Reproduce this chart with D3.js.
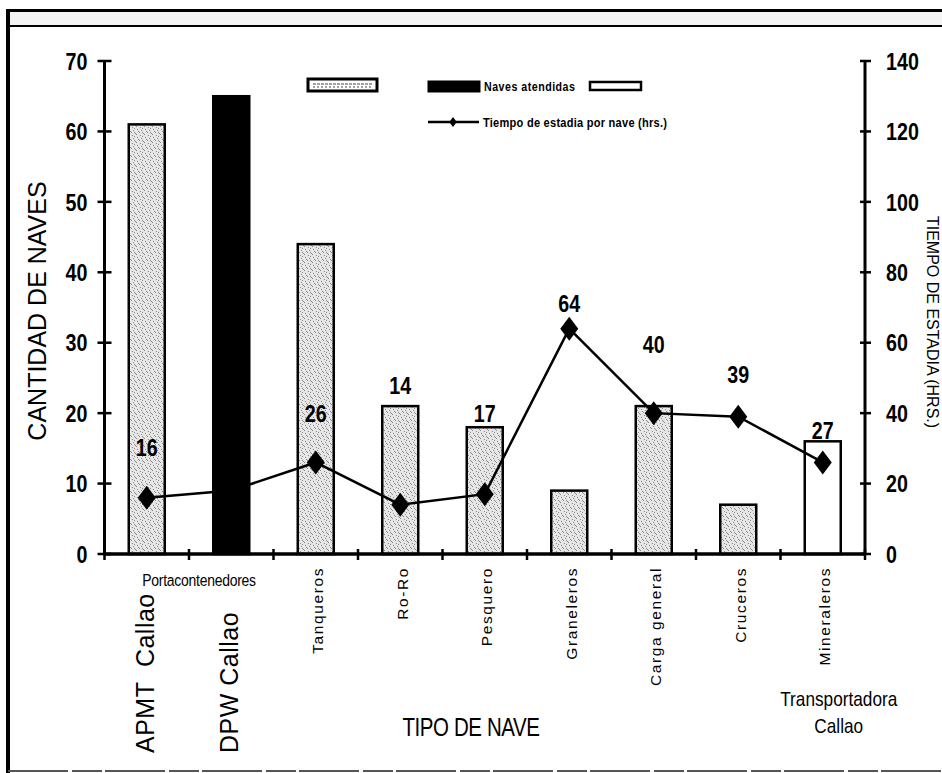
<!DOCTYPE html>
<html>
<head>
<meta charset="utf-8">
<script src="https://cdn.jsdelivr.net/npm/d3@7"></script>
<style>
  html, body { margin: 0; padding: 0; background: #fff; }
  svg { display: block; }
  text { font-family: "Liberation Sans", Arial, sans-serif; fill: #000; }
</style>
</head>
<body>
<svg id="chart" width="942" height="773"></svg>
<script>
// ---------------- DATA ----------------
const categories = ["APMT Callao", "DPW Callao", "Tanqueros", "Ro-Ro", "Pesquero",
                    "Graneleros", "Carga general", "Cruceros", "Mineraleros"];
const seriesOf = ["puerto", "dpw", "puerto", "puerto", "puerto",
                  "puerto", "puerto", "puerto", "transportadora"];
const navesAtendidas = [61, 65, 44, 21, 18, 9, 21, 7, 16];
const tiempoEstadia = [16, 18, 26, 14, 17, 64, 40, 39, 26];
const tiempoLabels = ["16", "", "26", "14", "17", "64", "40", "39", "27"];
const leftTicks = [0, 10, 20, 30, 40, 50, 60, 70];
const rightTicks = [0, 20, 40, 60, 80, 100, 120, 140];
const legendBarLabels = ["", "Naves atendidas", ""];
const legendLineLabel = "Tiempo de estadia por nave (hrs.)";
const groupLabel = "Portacontenedores";
const extraLabel = ["Transportadora", "Callao"];
const xTitle = "TIPO DE NAVE";
const yTitle = "CANTIDAD DE NAVES";
const y2Title = "TIEMPO DE ESTADIA (HRS.)";

// ---------------- LAYOUT ----------------
const svg = d3.select("#chart");
const X0 = 104.5, X1 = 865, Y0 = 554, Y1 = 61;
const NARROW = 0.82;

const x = d3.scaleBand().domain(categories).range([X0, X1]).padding(0);
const yL = d3.scaleLinear().domain([0, 70]).range([Y0, Y1]);
const yR = d3.scaleLinear().domain([0, 140]).range([Y0, Y1]);
const cx = c => x(c) + x.bandwidth() / 2;
const barW = 36;

// condensed text helper (Arial Narrow look)
function narrow(parent, px, py, str, o) {
  o = o || {};
  return parent.append("text")
    .attr("transform", `translate(${px},${py}) scale(${NARROW},1)`)
    .attr("dy", "0.36em")
    .attr("text-anchor", o.anchor || "start")
    .attr("font-size", o.size || 14)
    .attr("font-weight", o.weight || "normal")
    .attr("letter-spacing", o.ls || 0)
    .text(str);
}

// stipple pattern
const defs = svg.append("defs");
const pat = defs.append("pattern").attr("id", "stip").attr("patternUnits", "userSpaceOnUse")
  .attr("width", 8).attr("height", 8);
pat.append("rect").attr("width", 8).attr("height", 8).attr("fill", "#e6e6e6");
[[1,1],[5,2],[3,4],[7,5],[0,6],[4,7],[6,0],[2,3],[6,4]].forEach(p =>
  pat.append("rect").attr("x", p[0]).attr("y", p[1]).attr("width", 1).attr("height", 1).attr("fill", "#8c8c8c"));

const fills = { puerto: "url(#stip)", dpw: "#000", transportadora: "#fff" };

// ---------------- FRAME ----------------
svg.append("rect").attr("x", 6).attr("y", 12).attr("width", 936).attr("height", 13).attr("fill", "#f4f4f4");
svg.append("line").attr("x1", 6).attr("x2", 942).attr("y1", 10.5).attr("y2", 10.5).attr("stroke", "#000").attr("stroke-width", 3);
svg.append("line").attr("x1", 6).attr("x2", 942).attr("y1", 26).attr("y2", 26).attr("stroke", "#000").attr("stroke-width", 2);
svg.append("line").attr("x1", 8).attr("x2", 8).attr("y1", 9).attr("y2", 773).attr("stroke", "#000").attr("stroke-width", 4);
svg.append("line").attr("x1", 8).attr("x2", 942).attr("y1", 771).attr("y2", 771)
  .attr("stroke", "#555").attr("stroke-width", 2).attr("stroke-dasharray", "60,4,30,3");

// ---------------- BARS ----------------
svg.append("g").selectAll("rect").data(categories).join("rect")
  .attr("x", c => cx(c) - barW / 2)
  .attr("y", (c, i) => yL(navesAtendidas[i]))
  .attr("width", barW)
  .attr("height", (c, i) => Y0 - yL(navesAtendidas[i]))
  .attr("fill", (c, i) => fills[seriesOf[i]])
  .attr("stroke", "#000").attr("stroke-width", 2.5);

// ---------------- LINE ----------------
const line = d3.line().x((d, i) => cx(categories[i])).y(d => yR(d));
svg.append("path").datum(tiempoEstadia).attr("d", line)
  .attr("fill", "none").attr("stroke", "#000").attr("stroke-width", 2.5);
const diamond = "M0,-12L9,0L0,12L-9,0Z";
svg.append("g").selectAll("path").data(tiempoEstadia).join("path")
  .attr("transform", (d, i) => `translate(${cx(categories[i])},${yR(d)})`)
  .attr("d", diamond).attr("fill", "#000");

// data labels (vertical lift above each marker, px)
const lift = [50, 0, 49, 119, 81, 25, 69, 42, 32];
const gLab = svg.append("g");
tiempoLabels.forEach((t, i) => {
  if (!t) return;
  narrow(gLab, cx(categories[i]), yR(tiempoEstadia[i]) - lift[i], t,
         { anchor: "middle", size: 24, weight: "bold" });
});

// ---------------- AXES ----------------
const ax = svg.append("g").attr("stroke", "#000");
ax.append("line").attr("x1", X0).attr("x2", X0).attr("y1", Y1).attr("y2", Y0 + 1).attr("stroke-width", 3);
ax.append("line").attr("x1", X1).attr("x2", X1).attr("y1", Y1).attr("y2", Y0 + 1).attr("stroke-width", 3);
ax.append("line").attr("x1", X0 - 1).attr("x2", X1 + 1).attr("y1", Y0).attr("y2", Y0).attr("stroke-width", 3.5);

ax.selectAll(".lt").data(leftTicks).join("line").attr("class", "lt")
  .attr("x1", X0 - 7).attr("x2", X0 + 7).attr("y1", d => yL(d)).attr("y2", d => yL(d)).attr("stroke-width", 2.5);
ax.selectAll(".rt").data(rightTicks).join("line").attr("class", "rt")
  .attr("x1", X1 - 5).attr("x2", X1 + 6).attr("y1", d => yR(d)).attr("y2", d => yR(d)).attr("stroke-width", 2.5);
const bounds = categories.map(c => x(c)).concat([X1]);
ax.selectAll(".xt").data(bounds).join("line").attr("class", "xt")
  .attr("x1", d => d).attr("x2", d => d).attr("y1", Y0 - 5).attr("y2", Y0 + 6).attr("stroke-width", 2.5);

const gTick = svg.append("g");
leftTicks.forEach(v => narrow(gTick, X0 - 17, yL(v), String(v), { anchor: "end", size: 24, weight: "bold" }));
rightTicks.forEach(v => narrow(gTick, X1 + 21, yR(v), String(v), { anchor: "start", size: 24, weight: "bold" }));

// ---------------- CATEGORY LABELS ----------------
const big = new Set(["APMT Callao", "DPW Callao"]);
svg.append("g").selectAll("text").data(categories).join("text")
  .attr("transform", c => big.has(c)
      ? `translate(${cx(c) - 2},753) rotate(-90)`
      : `translate(${cx(c) + 2},567) rotate(-90)`)
  .attr("text-anchor", c => big.has(c) ? "start" : "end")
  .attr("dy", "0.36em")
  .attr("font-size", c => big.has(c) ? 25 : 15.5)
  .attr("letter-spacing", c => big.has(c) ? 0.5 : 1.6)
  .attr("xml:space", "preserve")
  .text(c => c === "APMT Callao" ? "APMT  Callao" : c);

narrow(svg, (cx(categories[0]) + cx(categories[1])) / 2 + 10, 580, groupLabel,
       { anchor: "middle", size: 17, ls: -0.3 });

extraLabel.forEach((t, i) => narrow(svg, cx(categories[8]) + 16, 698 + i * 27, t,
       { anchor: "middle", size: 21 }));

// titles
narrow(svg, 471, 727, xTitle, { anchor: "middle", size: 25, ls: -0.5 });
svg.append("text").attr("transform", "translate(37,311) rotate(-90)")
  .attr("dy", "0.36em").attr("text-anchor", "middle").attr("font-size", 25).text(yTitle);
// secondary-axis title squeezed against the right edge
svg.append("text").attr("transform", "translate(940,322) rotate(90)")
  .attr("text-anchor", "middle").attr("font-size", 16).attr("dy", "13px").text(y2Title);

// ---------------- LEGEND ----------------
const lg = svg.append("g");
const lgBoxes = [
  { x: 308, w: 69, y: 79, h: 12, fill: "#fff", sw: 3 },
  { x: 428, w: 52, y: 81, h: 11, fill: "#000", sw: 1 },
  { x: 590, w: 51, y: 82, h: 8, fill: "#fff", sw: 2.5 }
];
lgBoxes.forEach((b, i) => {
  lg.append("rect").attr("x", b.x).attr("y", b.y).attr("width", b.w).attr("height", b.h)
    .attr("fill", b.fill).attr("stroke", "#000").attr("stroke-width", b.sw);
  if (legendBarLabels[i]) {
    narrow(lg, b.x + b.w + 4, b.y + b.h / 2, legendBarLabels[i], { size: 13, weight: "bold", ls: 0.6 });
  }
});
lg.append("line").attr("x1", 313).attr("x2", 372).attr("y1", 84).attr("y2", 84).attr("stroke", "#444").attr("stroke-width", 1).attr("stroke-dasharray", "3,1");
lg.append("line").attr("x1", 313).attr("x2", 372).attr("y1", 87).attr("y2", 87).attr("stroke", "#444").attr("stroke-width", 1).attr("stroke-dasharray", "2,2");
lg.append("line").attr("x1", 428).attr("x2", 479).attr("y1", 122).attr("y2", 122).attr("stroke", "#000").attr("stroke-width", 2.5);
lg.append("path").attr("transform", "translate(453,122) scale(0.42)").attr("d", diamond).attr("fill", "#000");
narrow(lg, 483, 122, legendLineLabel, { size: 13.5, weight: "bold", ls: 0.3 });
</script>
</body>
</html>
